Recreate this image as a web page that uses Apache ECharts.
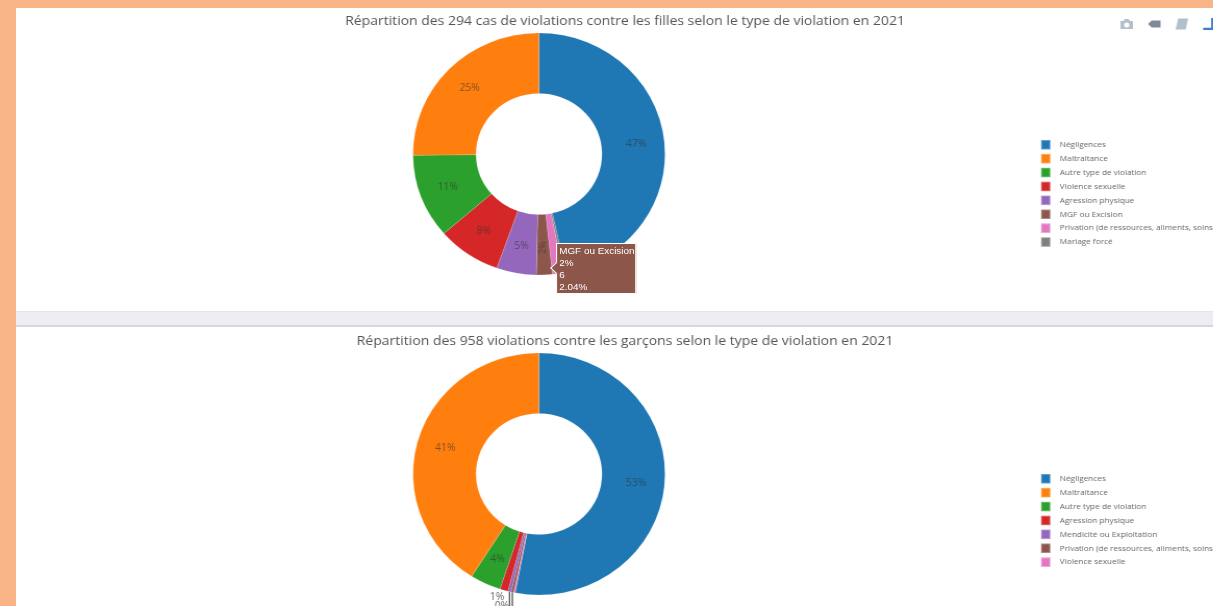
<!DOCTYPE html>
<html><head><meta charset="utf-8">
<style>
html,body{margin:0;padding:0;width:1213px;height:606px;overflow:hidden;background:#f8b486}
#p1{position:absolute;left:16px;top:8px;width:1197px;height:303px;background:#fff}
#band{position:absolute;left:16px;top:311px;width:1197px;height:15px;background:#eceef4;border-top:1px solid #e4e6ec;box-sizing:border-box}
#line{position:absolute;left:16px;top:325px;width:1197px;height:2px;background:#d5d7de}
#p2{position:absolute;left:16px;top:327px;width:1197px;height:279px;background:#fff}
/* the reference picture is stretched sideways by about 4% */
#c{position:absolute;left:0;top:0;width:1165px;height:606px;transform:scaleX(1.0413);transform-origin:0 0}
</style>
<script src="https://cdn.jsdelivr.net/npm/echarts@6/dist/echarts.min.js"></script>
</head><body>
<div id="p1"></div><div id="band"></div><div id="line"></div><div id="p2"></div><div id="c"></div>
<script>
const palette=['#1f77b4','#ff7f0e','#2ca02c','#d62728','#9467bd','#8c564b','#e377c2','#7f7f7f'];
const titleGirls='Répartition des 294 cas de violations contre les filles selon le type de violation en 2021';
const titleBoys='Répartition des 958 violations contre les garçons selon le type de violation en 2021';
const namesGirls=['Négligences','Maltraitance','Autre type de violation','Violence sexuelle','Agression physique','MGF ou Excision','Privation (de ressources, aliments, soins)','Mariage forcé'];
const valuesGirls=[137,74,33,24,15,6,4,1];
const namesBoys=['Négligences','Maltraitance','Autre type de violation','Agression physique','Mendicité ou Exploitation','Privation (de ressources, aliments, soins)','Violence sexuelle'];
const valuesBoys=[508,393,38,10,4,3,2];
const font='"Open Sans","DejaVu Sans",sans-serif';
const labelColor='rgba(50,50,50,.6)';
const SX=1.0413;

// The reference goes clockwise from the top: first category, then the others from smallest to largest.
function pieData(names,values,hiddenFrom,extra){
  const items=names.map((n,i)=>{
    const d={name:n,value:values[i],itemStyle:{color:palette[i]}};
    if(i>=hiddenFrom) d.label={show:false},d.labelLine={show:false};
    if(extra&&extra[i]) Object.assign(d,extra[i]);
    return d;
  });
  return [items[0]].concat(items.slice(1).reverse());
}
function pie(center,data,layout){
  return {type:'pie',center:center,radius:[60.5,121],startAngle:90,clockwise:true,
    avoidLabelOverlap:false,animation:false,data:data,labelLayout:layout,
    itemStyle:{borderColor:'rgba(255,255,255,.3)',borderWidth:0.5},
    label:{show:true,position:'inside',fontFamily:font,fontSize:10,color:labelColor,
      formatter:p=>Math.round(p.percent)+'%'},
    labelLine:{show:false},emphasis:{scale:false}};
}
function legend(top,names){
  return {orient:'vertical',left:1040/SX,top:top,padding:0,itemWidth:9,itemHeight:9.5,itemGap:2.4,selectedMode:false,
    icon:'rect',textStyle:{fontFamily:font,fontSize:7.9,color:'#666',padding:[0,0,0,4]},
    data:names.map((n,i)=>({name:n,itemStyle:{color:palette[i]}}))};
}
const girlsData=pieData(namesGirls,valuesGirls,6,{5:{label:{show:true,rotate:90,fontSize:9}}});
const outLabel={show:true,position:'outside',color:'#666'};
const leader=c=>({show:true,length:14,length2:2,lineStyle:{color:c,width:1.2}});
const boysData=pieData(namesBoys,valuesBoys,6,{
  3:{label:outLabel},
  4:{label:outLabel,labelLine:leader('#444')},
  5:{label:outLabel,labelLine:leader('#444')}
});
function boysLayout(p){
  const nm=boysData[p.dataIndex].name;
  if(nm==='Agression physique') return {x:497/SX,y:597,align:'center',verticalAlign:'middle'};
  if(nm==='Mendicité ou Exploitation'||nm==='Privation (de ressources, aliments, soins)'){
    const a=p.labelLinePoints&&p.labelLinePoints[0];
    const res={x:(nm[0]==='M'?502:520)/SX,y:nm[0]==='M'?606:640,align:'center',verticalAlign:'middle'};
    if(a) res.labelLinePoints=[a,[a[0],a[1]+20],[a[0],a[1]+20]];
    return res;
  }
  return {};
}
const chart=echarts.init(document.getElementById('c'),null,{renderer:'canvas'});
chart.setOption({
  backgroundColor:'transparent',animation:false,
  title:[
    {text:titleGirls,left:625/SX,top:15,padding:0,textAlign:'center',textStyle:{fontFamily:font,fontSize:13.45,fontWeight:'normal',color:'#555'}},
    {text:titleBoys,left:625/SX,top:335,padding:0,textAlign:'center',textStyle:{fontFamily:font,fontSize:13.45,fontWeight:'normal',color:'#555'}}
  ],
  legend:[legend(139,namesGirls),legend(473,namesBoys)],
  tooltip:{trigger:'item',alwaysShowContent:true,transitionDuration:0,padding:0,borderWidth:0,backgroundColor:'transparent',
    shadowBlur:0,extraCssText:'box-shadow:none;',
    position:()=>[528,243],
    formatter:p=>'<div style="position:relative;margin-left:6px;background:'+p.color+';border:1px solid #fff;color:#fff;font:9.5px/12px Arial,\'Liberation Sans\',sans-serif;padding:1px 2px 0 2px;width:71px;height:48px;box-sizing:content-box">'
      +'<span style="position:absolute;left:-5px;top:20px;width:7px;height:7px;background:'+p.color+';border-left:1px solid #fff;border-bottom:1px solid #fff;transform:rotate(45deg)"></span>'
      +p.name+'<br>'+Math.round(p.percent)+'%<br>'+p.value+'<br>'+(p.value/294*100).toFixed(2)+'%</div>'},
  toolbox:{left:1076,top:18,padding:0,itemSize:12,itemGap:14.5,iconStyle:{color:'#b4bfcc',borderWidth:0},
    feature:{
      myCam:{show:true,title:'',icon:'path://M1 3H4L5 1H9L10 3H13V11H1Z M7 4.5A2.5 2.5 0 1 0 7 9.5A2.5 2.5 0 1 0 7 4.5Z',onclick(){}},
      myTag:{show:true,title:'',icon:'path://M0 5L4 1H14V9H4Z',iconStyle:{color:'#7f8b98'},onclick(){}},
      myBook:{show:true,title:'',icon:'path://M3 1H11L9 10H1Z',onclick(){}},
      myLogo:{show:true,title:'',icon:'path://M8 1H10V12H1V10H8Z',iconStyle:{color:'#3d7fc4'},onclick(){}}
    }},
  series:[pie([539/SX,154],girlsData),pie([539/SX,474],boysData,boysLayout)]
});
chart.dispatchAction({type:'showTip',seriesIndex:0,name:'MGF ou Excision'});
</script>
</body></html>
